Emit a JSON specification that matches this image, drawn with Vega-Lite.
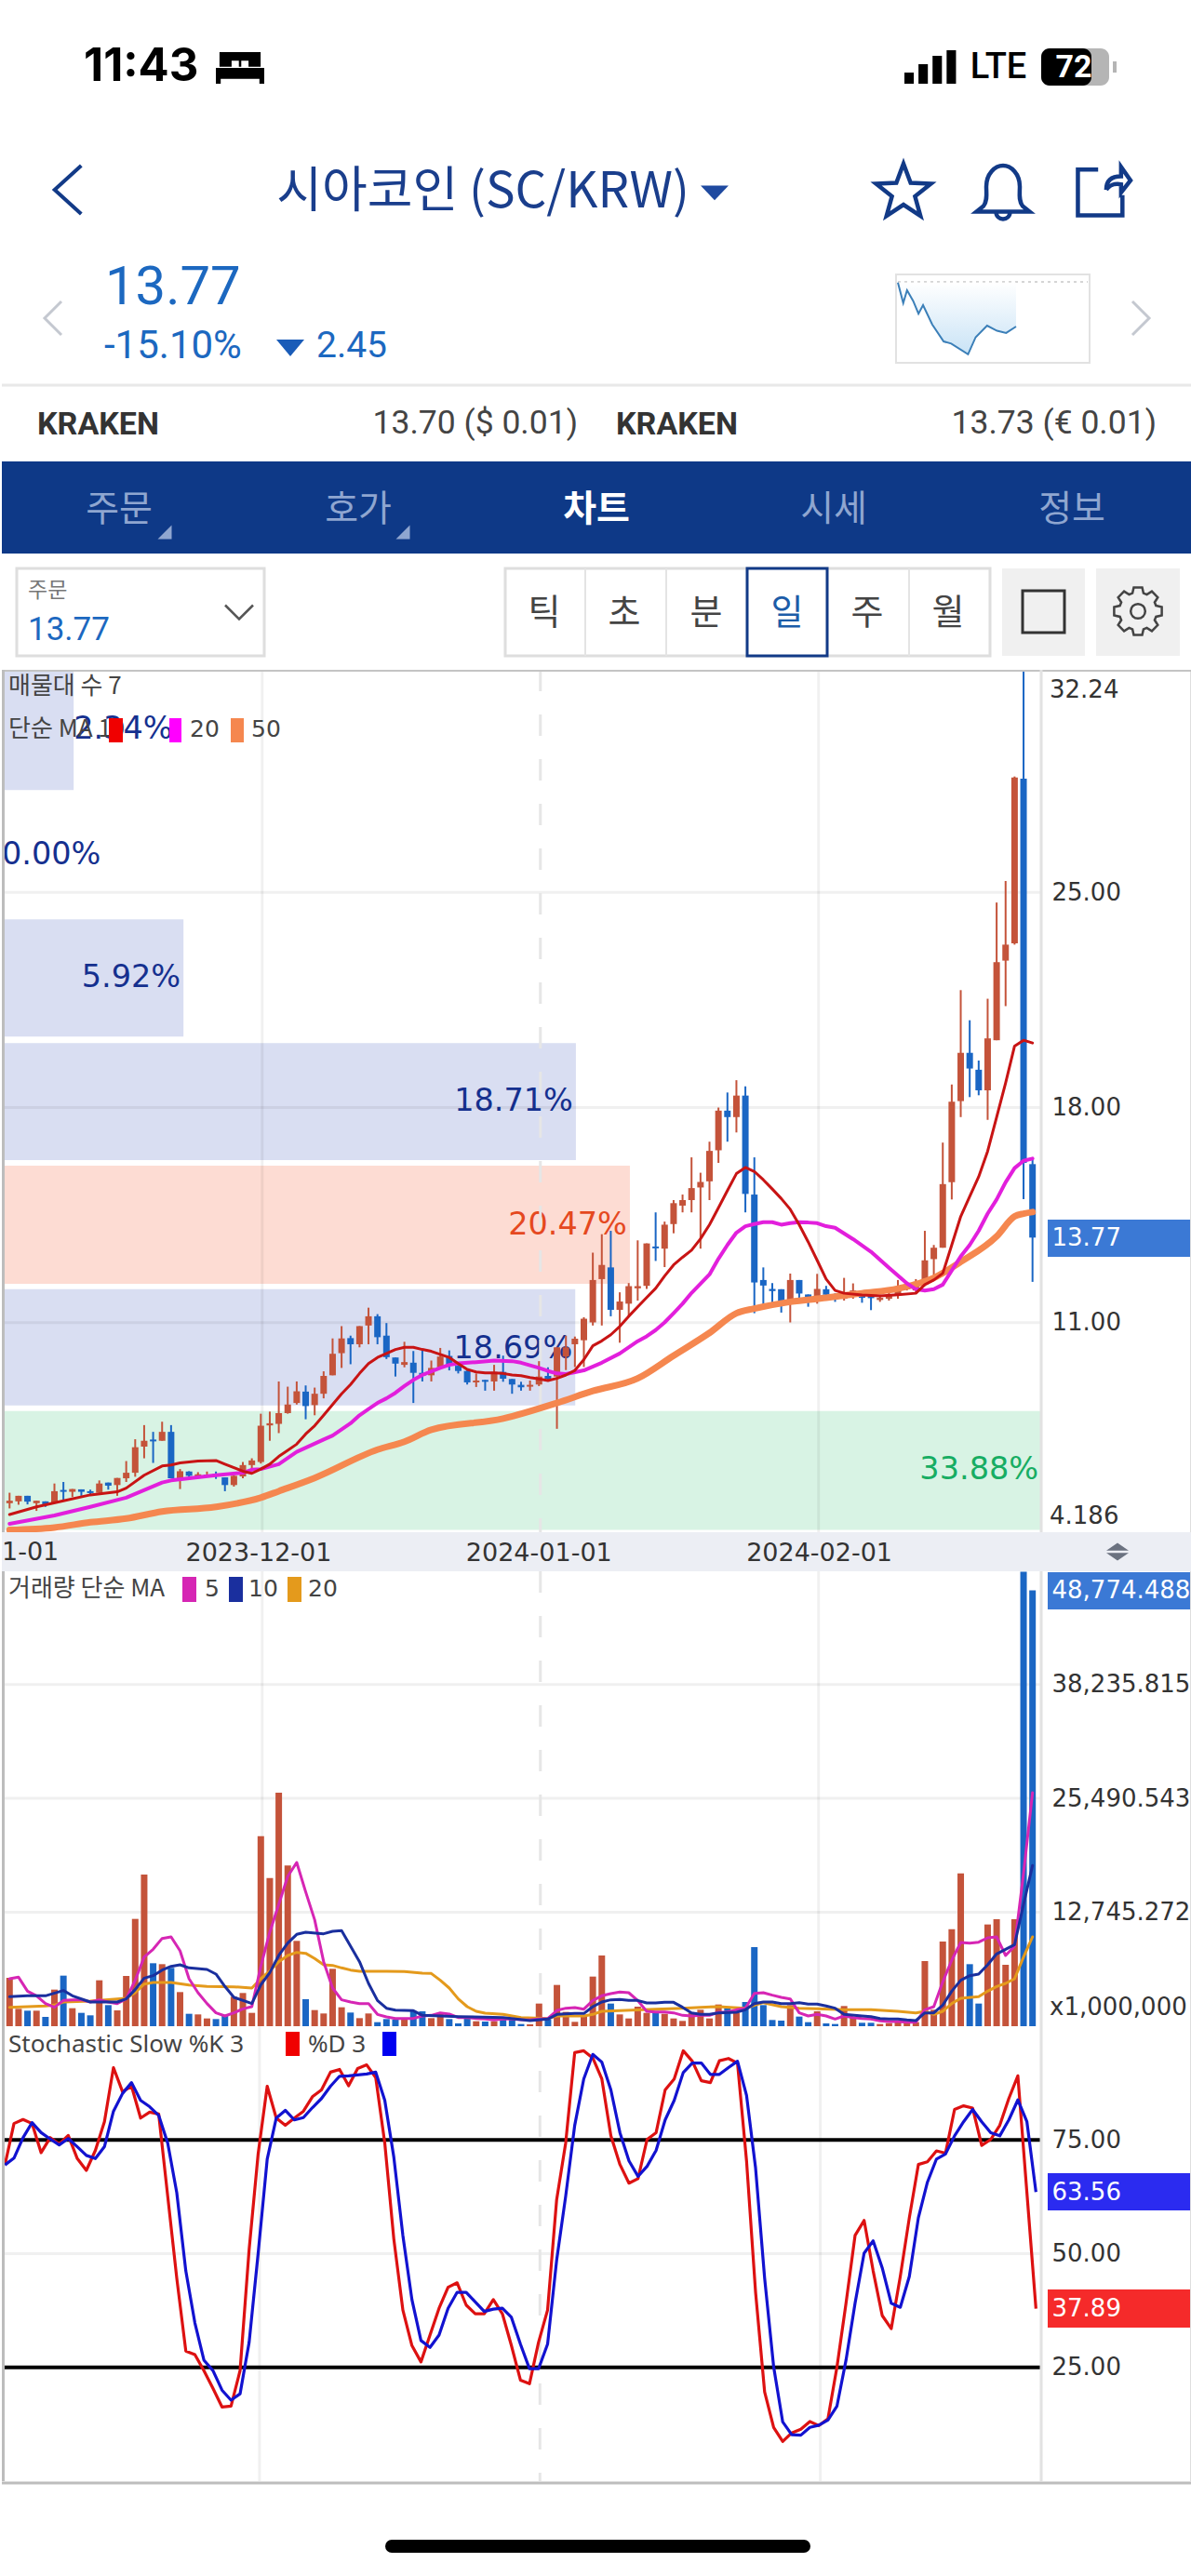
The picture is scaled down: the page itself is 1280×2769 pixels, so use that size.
{
"$schema":"https://vega.github.io/schema/vega-lite/v6.json",
"padding":0,"spacing":0,"bounds":"flush","background":"white",
"config":{"view":{"stroke":null},"axis":{"labelFont":"DejaVu Sans"}},
"datasets":{
"k":[
{"d":"2023-11-03","o":5.13,"h":5.47,"l":4.96,"c":5.21,"v":5413},{"d":"2023-11-04","o":5.19,"h":5.37,"l":5.08,"c":5.37,"v":1943},{"d":"2023-11-05","o":5.37,"h":5.37,"l":5.09,"c":5.18,"v":1735},{"d":"2023-11-06","o":5.13,"h":5.21,"l":4.88,"c":5.21,"v":1735},{"d":"2023-11-07","o":5.19,"h":5.19,"l":5.01,"c":5.09,"v":1041},{"d":"2023-11-08","o":5.13,"h":5.77,"l":5.13,"c":5.52,"v":4095},{"d":"2023-11-09","o":5.56,"h":5.82,"l":5.23,"c":5.50,"v":5656},{"d":"2023-11-10","o":5.50,"h":5.59,"l":5.33,"c":5.59,"v":2013},{"d":"2023-11-11","o":5.58,"h":5.58,"l":5.37,"c":5.50,"v":1492},{"d":"2023-11-12","o":5.52,"h":5.57,"l":5.37,"c":5.46,"v":1215},{"d":"2023-11-13","o":5.47,"h":5.87,"l":5.47,"c":5.77,"v":5136},{"d":"2023-11-14","o":5.80,"h":5.80,"l":5.57,"c":5.70,"v":2360},{"d":"2023-11-15","o":5.72,"h":5.95,"l":5.37,"c":5.95,"v":1770},{"d":"2023-11-16","o":5.94,"h":6.50,"l":5.82,"c":6.12,"v":5621},{"d":"2023-11-17","o":6.12,"h":7.21,"l":5.99,"c":6.95,"v":12006},{"d":"2023-11-18","o":6.97,"h":7.67,"l":6.59,"c":7.16,"v":16968},{"d":"2023-11-19","o":7.20,"h":7.45,"l":6.44,"c":7.14,"v":7044},{"d":"2023-11-20","o":7.16,"h":7.78,"l":7.16,"c":7.45,"v":6940},{"d":"2023-11-21","o":7.45,"h":7.67,"l":5.94,"c":5.94,"v":6524},{"d":"2023-11-22","o":5.94,"h":6.24,"l":5.59,"c":6.17,"v":3817},{"d":"2023-11-23","o":6.16,"h":6.17,"l":5.97,"c":6.02,"v":1388},{"d":"2023-11-24","o":6.00,"h":6.14,"l":5.97,"c":6.07,"v":1319},{"d":"2023-11-25","o":6.00,"h":6.16,"l":5.97,"c":6.06,"v":868},{"d":"2023-11-26","o":6.08,"h":6.16,"l":5.92,"c":6.00,"v":798},{"d":"2023-11-27","o":5.97,"h":5.97,"l":5.52,"c":5.72,"v":1215},{"d":"2023-11-28","o":5.72,"h":6.04,"l":5.67,"c":6.02,"v":3297},{"d":"2023-11-29","o":6.00,"h":6.47,"l":5.94,"c":6.37,"v":3713},{"d":"2023-11-30","o":6.37,"h":6.59,"l":6.22,"c":6.52,"v":1492},
{"d":"2023-12-01","o":6.47,"h":8.04,"l":6.42,"c":7.65,"v":21271},{"d":"2023-12-02","o":7.66,"h":8.11,"l":7.16,"c":7.73,"v":16587},{"d":"2023-12-03","o":7.71,"h":9.09,"l":7.41,"c":8.06,"v":26129},{"d":"2023-12-04","o":8.06,"h":8.92,"l":8.04,"c":8.34,"v":17975},{"d":"2023-12-05","o":8.39,"h":9.09,"l":8.34,"c":8.77,"v":9543},{"d":"2023-12-06","o":8.76,"h":8.96,"l":7.86,"c":8.29,"v":3019},{"d":"2023-12-07","o":8.32,"h":8.89,"l":7.99,"c":8.69,"v":1804},{"d":"2023-12-08","o":8.69,"h":9.42,"l":8.54,"c":9.27,"v":1423},{"d":"2023-12-09","o":9.29,"h":10.49,"l":9.29,"c":9.99,"v":6420},{"d":"2023-12-10","o":10.01,"h":10.89,"l":9.53,"c":10.49,"v":2117},{"d":"2023-12-11","o":10.50,"h":10.58,"l":9.65,"c":10.30,"v":1527},{"d":"2023-12-12","o":10.30,"h":10.89,"l":10.20,"c":10.89,"v":902},{"d":"2023-12-13","o":10.91,"h":11.49,"l":10.30,"c":11.21,"v":1423},{"d":"2023-12-14","o":11.21,"h":11.28,"l":10.30,"c":10.53,"v":451},{"d":"2023-12-15","o":10.58,"h":10.99,"l":9.82,"c":9.88,"v":798},{"d":"2023-12-16","o":9.87,"h":9.87,"l":9.25,"c":9.67,"v":729},{"d":"2023-12-17","o":9.63,"h":10.38,"l":9.55,"c":9.72,"v":798},{"d":"2023-12-18","o":9.70,"h":10.08,"l":8.39,"c":9.37,"v":1666},{"d":"2023-12-19","o":9.37,"h":10.10,"l":9.09,"c":9.27,"v":1666},{"d":"2023-12-20","o":9.29,"h":9.77,"l":9.09,"c":9.53,"v":902},{"d":"2023-12-21","o":9.55,"h":10.18,"l":9.55,"c":9.90,"v":1492},{"d":"2023-12-22","o":9.92,"h":10.10,"l":9.45,"c":9.63,"v":798},{"d":"2023-12-23","o":9.60,"h":9.70,"l":9.35,"c":9.43,"v":312},{"d":"2023-12-24","o":9.43,"h":9.45,"l":8.99,"c":9.06,"v":868},{"d":"2023-12-25","o":9.06,"h":9.35,"l":8.91,"c":9.12,"v":555},{"d":"2023-12-26","o":9.14,"h":9.14,"l":8.79,"c":9.08,"v":520},{"d":"2023-12-27","o":9.09,"h":9.63,"l":8.79,"c":9.40,"v":555},{"d":"2023-12-28","o":9.40,"h":9.93,"l":9.08,"c":9.18,"v":798},{"d":"2023-12-29","o":9.17,"h":9.17,"l":8.69,"c":8.99,"v":729},{"d":"2023-12-30","o":8.98,"h":9.08,"l":8.79,"c":8.90,"v":243},{"d":"2023-12-31","o":8.92,"h":9.12,"l":8.79,"c":8.98,"v":208},
{"d":"2024-01-01","o":8.99,"h":9.75,"l":8.94,"c":9.25,"v":2533},{"d":"2024-01-02","o":9.27,"h":9.55,"l":9.09,"c":9.17,"v":729},{"d":"2024-01-03","o":9.25,"h":10.20,"l":7.55,"c":10.20,"v":4615},{"d":"2024-01-04","o":9.90,"h":10.58,"l":9.46,"c":10.20,"v":1596},{"d":"2024-01-05","o":10.30,"h":10.55,"l":9.56,"c":10.48,"v":486},{"d":"2024-01-06","o":10.43,"h":11.18,"l":9.56,"c":11.13,"v":1076},{"d":"2024-01-07","o":11.01,"h":13.28,"l":10.91,"c":12.39,"v":5552},{"d":"2024-01-08","o":12.42,"h":13.88,"l":10.91,"c":12.88,"v":7912},{"d":"2024-01-09","o":12.80,"h":13.99,"l":11.21,"c":11.42,"v":2533},{"d":"2024-01-10","o":11.42,"h":11.99,"l":10.35,"c":11.69,"v":1319},{"d":"2024-01-11","o":11.62,"h":12.29,"l":11.21,"c":12.19,"v":868},{"d":"2024-01-12","o":12.12,"h":13.68,"l":11.72,"c":12.19,"v":2186},{"d":"2024-01-13","o":12.20,"h":13.58,"l":12.10,"c":13.58,"v":1492},{"d":"2024-01-14","o":13.48,"h":14.59,"l":13.01,"c":13.42,"v":1666},{"d":"2024-01-15","o":13.41,"h":14.29,"l":12.81,"c":14.19,"v":1388},{"d":"2024-01-16","o":14.21,"h":14.99,"l":13.91,"c":14.89,"v":868},{"d":"2024-01-17","o":14.81,"h":15.17,"l":14.59,"c":14.99,"v":590},{"d":"2024-01-18","o":14.99,"h":16.38,"l":14.59,"c":15.38,"v":1492},{"d":"2024-01-19","o":15.40,"h":15.88,"l":13.41,"c":15.58,"v":1839},{"d":"2024-01-20","o":15.60,"h":16.89,"l":14.99,"c":16.59,"v":868},{"d":"2024-01-21","o":16.61,"h":18.00,"l":16.20,"c":17.90,"v":2429},{"d":"2024-01-22","o":17.90,"h":18.49,"l":16.89,"c":17.69,"v":2013},{"d":"2024-01-23","o":17.69,"h":18.89,"l":17.19,"c":18.39,"v":1492},{"d":"2024-01-24","o":18.39,"h":18.69,"l":14.59,"c":15.19,"v":2707},{"d":"2024-01-25","o":15.17,"h":16.38,"l":11.31,"c":12.31,"v":8849},{"d":"2024-01-26","o":12.39,"h":12.80,"l":11.52,"c":12.21,"v":2360},{"d":"2024-01-27","o":12.10,"h":12.29,"l":11.62,"c":12.03,"v":694},{"d":"2024-01-28","o":12.09,"h":12.09,"l":11.33,"c":11.67,"v":625},{"d":"2024-01-29","o":11.67,"h":12.60,"l":11.01,"c":12.39,"v":2360},{"d":"2024-01-30","o":12.39,"h":12.39,"l":11.81,"c":11.95,"v":1076},{"d":"2024-01-31","o":11.92,"h":11.92,"l":11.52,"c":11.79,"v":451},
{"d":"2024-02-01","o":11.77,"h":12.59,"l":11.62,"c":12.10,"v":1666},{"d":"2024-02-02","o":12.09,"h":12.20,"l":11.78,"c":11.91,"v":312},{"d":"2024-02-03","o":11.91,"h":11.96,"l":11.68,"c":11.76,"v":243},{"d":"2024-02-04","o":11.78,"h":12.46,"l":11.72,"c":11.96,"v":2256},{"d":"2024-02-05","o":11.87,"h":12.28,"l":11.78,"c":12.05,"v":972},{"d":"2024-02-06","o":11.96,"h":11.96,"l":11.65,"c":11.81,"v":382},{"d":"2024-02-07","o":11.87,"h":11.96,"l":11.41,"c":11.80,"v":382},{"d":"2024-02-08","o":11.74,"h":11.91,"l":11.68,"c":11.81,"v":243},{"d":"2024-02-09","o":11.78,"h":12.00,"l":11.72,"c":11.87,"v":347},{"d":"2024-02-10","o":11.91,"h":12.39,"l":11.78,"c":12.15,"v":555},{"d":"2024-02-11","o":12.09,"h":12.28,"l":12.05,"c":12.24,"v":451},{"d":"2024-02-12","o":12.05,"h":12.42,"l":11.96,"c":12.33,"v":451},{"d":"2024-02-13","o":12.24,"h":13.99,"l":12.20,"c":13.03,"v":7287},{"d":"2024-02-14","o":13.07,"h":13.53,"l":12.55,"c":13.44,"v":1839},{"d":"2024-02-15","o":13.44,"h":16.86,"l":13.44,"c":15.51,"v":9473},{"d":"2024-02-16","o":15.57,"h":18.75,"l":15.01,"c":18.19,"v":10861},{"d":"2024-02-17","o":18.21,"h":21.82,"l":17.69,"c":19.78,"v":17107},{"d":"2024-02-18","o":19.78,"h":20.84,"l":18.34,"c":19.27,"v":6940},{"d":"2024-02-19","o":19.23,"h":19.53,"l":18.40,"c":18.56,"v":2533},{"d":"2024-02-20","o":18.56,"h":21.54,"l":17.60,"c":20.25,"v":11382},{"d":"2024-02-21","o":20.19,"h":24.67,"l":20.19,"c":22.73,"v":11972},{"d":"2024-02-22","o":22.78,"h":25.37,"l":21.30,"c":23.30,"v":6871},{"d":"2024-02-23","o":23.34,"h":28.77,"l":23.30,"c":28.74,"v":11972},{"d":"2024-02-24","o":28.70,"h":32.24,"l":15.02,"c":16.20,"v":50836},{"d":"2024-02-25","o":16.16,"h":16.34,"l":12.33,"c":13.77,"v":48774.488}
],
"ma10":[{"d":"2023-11-03","v":4.76},{"d":"2023-11-06","v":5.01},{"d":"2023-11-09","v":5.21},{"d":"2023-11-12","v":5.40},{"d":"2023-11-15","v":5.50},{"d":"2023-11-16","v":5.62},{"d":"2023-11-18","v":6.04},{"d":"2023-11-20","v":6.34},{"d":"2023-11-21","v":6.37},{"d":"2023-11-22","v":6.44},{"d":"2023-11-24","v":6.50},{"d":"2023-11-26","v":6.52},{"d":"2023-11-27","v":6.40},{"d":"2023-11-29","v":6.17},{"d":"2023-11-30","v":6.10},{"d":"2023-12-01","v":6.24},{"d":"2023-12-02","v":6.40},{"d":"2023-12-03","v":6.65},{"d":"2023-12-04","v":6.85},{"d":"2023-12-05","v":7.05},{"d":"2023-12-06","v":7.38},{"d":"2023-12-07","v":7.65},{"d":"2023-12-08","v":7.99},{"d":"2023-12-09","v":8.34},{"d":"2023-12-10","v":8.69},{"d":"2023-12-11","v":8.99},{"d":"2023-12-12","v":9.35},{"d":"2023-12-13","v":9.67},{"d":"2023-12-14","v":9.87},{"d":"2023-12-15","v":10.0},{"d":"2023-12-16","v":10.13},{"d":"2023-12-17","v":10.20},{"d":"2023-12-18","v":10.20},{"d":"2023-12-19","v":10.13},{"d":"2023-12-20","v":10.07},{"d":"2023-12-21","v":9.97},{"d":"2023-12-22","v":9.87},{"d":"2023-12-23","v":9.67},{"d":"2023-12-24","v":9.48},{"d":"2023-12-25","v":9.40},{"d":"2023-12-26","v":9.37},{"d":"2023-12-27","v":9.37},{"d":"2023-12-28","v":9.35},{"d":"2023-12-29","v":9.30},{"d":"2023-12-30","v":9.28},{"d":"2023-12-31","v":9.22},{"d":"2024-01-01","v":9.17},{"d":"2024-01-02","v":9.12},{"d":"2024-01-03","v":9.19},{"d":"2024-01-04","v":9.30},{"d":"2024-01-05","v":9.45},{"d":"2024-01-06","v":9.80},{"d":"2024-01-07","v":10.25},{"d":"2024-01-08","v":10.41},{"d":"2024-01-09","v":10.61},{"d":"2024-01-10","v":10.88},{"d":"2024-01-11","v":11.21},{"d":"2024-01-12","v":11.52},{"d":"2024-01-13","v":11.82},{"d":"2024-01-14","v":12.12},{"d":"2024-01-15","v":12.52},{"d":"2024-01-16","v":12.88},{"d":"2024-01-17","v":13.13},{"d":"2024-01-18","v":13.36},{"d":"2024-01-19","v":13.73},{"d":"2024-01-20","v":14.19},{"d":"2024-01-21","v":14.74},{"d":"2024-01-22","v":15.30},{"d":"2024-01-23","v":15.85},{"d":"2024-01-24","v":16.05},{"d":"2024-01-25","v":15.92},{"d":"2024-01-26","v":15.65},{"d":"2024-01-27","v":15.35},{"d":"2024-01-28","v":15.04},{"d":"2024-01-29","v":14.69},{"d":"2024-01-30","v":14.19},{"d":"2024-01-31","v":13.63},{"d":"2024-02-01","v":13.03},{"d":"2024-02-02","v":12.42},{"d":"2024-02-03","v":12.05},{"d":"2024-02-04","v":11.96},{"d":"2024-02-06","v":11.90},{"d":"2024-02-08","v":11.87},{"d":"2024-02-10","v":11.91},{"d":"2024-02-12","v":11.96},{"d":"2024-02-13","v":12.24},{"d":"2024-02-14","v":12.39},{"d":"2024-02-15","v":12.61},{"d":"2024-02-16","v":13.53},{"d":"2024-02-17","v":14.46},{"d":"2024-02-18","v":15.11},{"d":"2024-02-19","v":15.75},{"d":"2024-02-20","v":16.58},{"d":"2024-02-21","v":17.69},{"d":"2024-02-22","v":18.80},{"d":"2024-02-23","v":20.0},{"d":"2024-02-24","v":20.19},{"d":"2024-02-25","v":20.10}],
"ma20":[{"d":"2023-11-03","v":4.46},{"d":"2023-11-08","v":4.73},{"d":"2023-11-12","v":5.01},{"d":"2023-11-16","v":5.31},{"d":"2023-11-20","v":5.80},{"d":"2023-11-21","v":5.87},{"d":"2023-11-26","v":6.04},{"d":"2023-11-29","v":6.12},{"d":"2023-11-30","v":6.22},{"d":"2023-12-01","v":6.24},{"d":"2023-12-03","v":6.40},{"d":"2023-12-05","v":6.80},{"d":"2023-12-08","v":7.20},{"d":"2023-12-09","v":7.33},{"d":"2023-12-11","v":7.73},{"d":"2023-12-12","v":7.99},{"d":"2023-12-13","v":8.19},{"d":"2023-12-14","v":8.39},{"d":"2023-12-15","v":8.54},{"d":"2023-12-16","v":8.72},{"d":"2023-12-17","v":8.94},{"d":"2023-12-18","v":9.14},{"d":"2023-12-19","v":9.30},{"d":"2023-12-20","v":9.42},{"d":"2023-12-21","v":9.53},{"d":"2023-12-22","v":9.63},{"d":"2023-12-23","v":9.68},{"d":"2023-12-25","v":9.72},{"d":"2023-12-27","v":9.77},{"d":"2023-12-29","v":9.75},{"d":"2023-12-30","v":9.70},{"d":"2024-01-01","v":9.53},{"d":"2024-01-02","v":9.43},{"d":"2024-01-03","v":9.35},{"d":"2024-01-04","v":9.33},{"d":"2024-01-06","v":9.45},{"d":"2024-01-08","v":9.70},{"d":"2024-01-10","v":10.0},{"d":"2024-01-12","v":10.40},{"d":"2024-01-13","v":10.56},{"d":"2024-01-14","v":10.76},{"d":"2024-01-15","v":11.01},{"d":"2024-01-16","v":11.31},{"d":"2024-01-17","v":11.62},{"d":"2024-01-18","v":11.97},{"d":"2024-01-19","v":12.27},{"d":"2024-01-20","v":12.57},{"d":"2024-01-21","v":13.08},{"d":"2024-01-22","v":13.53},{"d":"2024-01-23","v":13.93},{"d":"2024-01-24","v":14.14},{"d":"2024-01-25","v":14.21},{"d":"2024-01-26","v":14.27},{"d":"2024-01-27","v":14.27},{"d":"2024-01-28","v":14.19},{"d":"2024-01-29","v":14.24},{"d":"2024-01-30","v":14.27},{"d":"2024-01-31","v":14.26},{"d":"2024-02-01","v":14.24},{"d":"2024-02-02","v":14.14},{"d":"2024-02-03","v":14.09},{"d":"2024-02-05","v":13.72},{"d":"2024-02-07","v":13.31},{"d":"2024-02-09","v":12.79},{"d":"2024-02-11","v":12.28},{"d":"2024-02-12","v":12.09},{"d":"2024-02-13","v":12.05},{"d":"2024-02-14","v":12.09},{"d":"2024-02-15","v":12.24},{"d":"2024-02-16","v":12.70},{"d":"2024-02-17","v":13.16},{"d":"2024-02-18","v":13.53},{"d":"2024-02-19","v":13.99},{"d":"2024-02-20","v":14.55},{"d":"2024-02-21","v":15.01},{"d":"2024-02-22","v":15.57},{"d":"2024-02-23","v":16.03},{"d":"2024-02-24","v":16.27},{"d":"2024-02-25","v":16.34}],
"ma50":[{"d":"2023-11-03","v":4.26},{"d":"2023-11-08","v":4.34},{"d":"2023-11-12","v":4.51},{"d":"2023-11-16","v":4.63},{"d":"2023-11-20","v":4.86},{"d":"2023-11-26","v":5.01},{"d":"2023-12-01","v":5.31},{"d":"2023-12-03","v":5.52},{"d":"2023-12-07","v":5.95},{"d":"2023-12-14","v":6.87},{"d":"2023-12-17","v":7.13},{"d":"2023-12-20","v":7.52},{"d":"2023-12-28","v":7.88},{"d":"2024-01-03","v":8.39},{"d":"2024-01-07","v":8.78},{"d":"2024-01-12","v":9.19},{"d":"2024-01-16","v":9.93},{"d":"2024-01-20","v":10.67},{"d":"2024-01-23","v":11.31},{"d":"2024-01-25","v":11.46},{"d":"2024-01-29","v":11.68},{"d":"2024-02-02","v":11.81},{"d":"2024-02-06","v":11.96},{"d":"2024-02-10","v":12.11},{"d":"2024-02-14","v":12.46},{"d":"2024-02-17","v":12.98},{"d":"2024-02-21","v":13.81},{"d":"2024-02-23","v":14.46},{"d":"2024-02-24","v":14.55},{"d":"2024-02-25","v":14.60}],
"vm5":[{"d":"2023-11-03","v":5309},{"d":"2023-11-04","v":5483},{"d":"2023-11-05","v":3921},{"d":"2023-11-06","v":3401},{"d":"2023-11-07","v":2533},{"d":"2023-11-08","v":2117},{"d":"2023-11-09","v":2880},{"d":"2023-11-10","v":2950},{"d":"2023-11-11","v":2950},{"d":"2023-11-12","v":2707},{"d":"2023-11-13","v":2950},{"d":"2023-11-14","v":2707},{"d":"2023-11-15","v":2533},{"d":"2023-11-16","v":3054},{"d":"2023-11-17","v":5136},{"d":"2023-11-18","v":7738},{"d":"2023-11-19","v":8606},{"d":"2023-11-20","v":9820},{"d":"2023-11-21","v":9994},{"d":"2023-11-22","v":8432},{"d":"2023-11-23","v":5309},{"d":"2023-11-24","v":3748},{"d":"2023-11-25","v":2533},{"d":"2023-11-26","v":1492},{"d":"2023-11-27","v":1145},{"d":"2023-11-28","v":1492},{"d":"2023-11-29","v":1943},{"d":"2023-11-30","v":2186},{"d":"2023-12-01","v":6697},{"d":"2023-12-02","v":10514},{"d":"2023-12-03","v":13637},{"d":"2023-12-04","v":16760},{"d":"2023-12-05","v":18322},{"d":"2023-12-06","v":15025},{"d":"2023-12-07","v":11902},{"d":"2023-12-08","v":7218},{"d":"2023-12-09","v":4268},{"d":"2023-12-10","v":2950},{"d":"2023-12-11","v":2707},{"d":"2023-12-12","v":2533},{"d":"2023-12-13","v":2533},{"d":"2023-12-14","v":1319},{"d":"2023-12-15","v":1041},{"d":"2023-12-16","v":868},{"d":"2023-12-17","v":868},{"d":"2023-12-18","v":868},{"d":"2023-12-19","v":1145},{"d":"2023-12-20","v":1215},{"d":"2023-12-21","v":1492},{"d":"2023-12-22","v":1353},{"d":"2023-12-23","v":972},{"d":"2023-12-24","v":972},{"d":"2023-12-25","v":868},{"d":"2023-12-26","v":798},{"d":"2023-12-27","v":694},{"d":"2023-12-28","v":798},{"d":"2023-12-29","v":798},{"d":"2023-12-30","v":729},{"d":"2023-12-31","v":694},{"d":"2024-01-01","v":798},{"d":"2024-01-02","v":868},{"d":"2024-01-03","v":1770},{"d":"2024-01-04","v":2013},{"d":"2024-01-05","v":2082},{"d":"2024-01-06","v":1909},{"d":"2024-01-07","v":2880},{"d":"2024-01-08","v":3401},{"d":"2024-01-09","v":3644},{"d":"2024-01-10","v":3817},{"d":"2024-01-11","v":3748},{"d":"2024-01-12","v":2880},{"d":"2024-01-13","v":1666},{"d":"2024-01-14","v":1596},{"d":"2024-01-15","v":1596},{"d":"2024-01-16","v":1492},{"d":"2024-01-17","v":1215},{"d":"2024-01-18","v":1145},{"d":"2024-01-19","v":1215},{"d":"2024-01-20","v":1215},{"d":"2024-01-21","v":1562},{"d":"2024-01-22","v":1596},{"d":"2024-01-23","v":1839},{"d":"2024-01-24","v":2013},{"d":"2024-01-25","v":3678},{"d":"2024-01-26","v":3748},{"d":"2024-01-27","v":3470},{"d":"2024-01-28","v":3227},{"d":"2024-01-29","v":3054},{"d":"2024-01-30","v":1492},{"d":"2024-01-31","v":1145},{"d":"2024-02-01","v":1319},{"d":"2024-02-02","v":1145},{"d":"2024-02-03","v":798},{"d":"2024-02-04","v":1145},{"d":"2024-02-05","v":972},{"d":"2024-02-06","v":868},{"d":"2024-02-07","v":798},{"d":"2024-02-08","v":590},{"d":"2024-02-09","v":521},{"d":"2024-02-10","v":521},{"d":"2024-02-11","v":451},{"d":"2024-02-12","v":451},{"d":"2024-02-13","v":1839},{"d":"2024-02-14","v":2186},{"d":"2024-02-15","v":4962},{"d":"2024-02-16","v":7391},{"d":"2024-02-17","v":9369},{"d":"2024-02-18","v":9300},{"d":"2024-02-19","v":9404},{"d":"2024-02-20","v":9890},{"d":"2024-02-21","v":9994},{"d":"2024-02-22","v":7912},{"d":"2024-02-23","v":8953},{"d":"2024-02-24","v":17107},{"d":"2024-02-25","v":26129}],
"vm10":[{"d":"2023-11-03","v":3297},{"d":"2023-11-05","v":3401},{"d":"2023-11-07","v":3401},{"d":"2023-11-09","v":3991},{"d":"2023-11-10","v":3401},{"d":"2023-11-12","v":2707},{"d":"2023-11-14","v":2707},{"d":"2023-11-15","v":2707},{"d":"2023-11-16","v":3054},{"d":"2023-11-17","v":4095},{"d":"2023-11-18","v":5379},{"d":"2023-11-19","v":5656},{"d":"2023-11-20","v":6281},{"d":"2023-11-21","v":6697},{"d":"2023-11-22","v":6871},{"d":"2023-11-23","v":6524},{"d":"2023-11-25","v":6350},{"d":"2023-11-26","v":5830},{"d":"2023-11-27","v":4442},{"d":"2023-11-28","v":3227},{"d":"2023-11-30","v":2533},{"d":"2023-12-01","v":4615},{"d":"2023-12-02","v":6003},{"d":"2023-12-03","v":7912},{"d":"2023-12-04","v":9300},{"d":"2023-12-05","v":10271},{"d":"2023-12-06","v":10514},{"d":"2023-12-08","v":10341},{"d":"2023-12-09","v":10618},{"d":"2023-12-10","v":10688},{"d":"2023-12-11","v":8953},{"d":"2023-12-12","v":7218},{"d":"2023-12-13","v":4789},{"d":"2023-12-14","v":2880},{"d":"2023-12-15","v":2013},{"d":"2023-12-16","v":1804},{"d":"2023-12-18","v":1735},{"d":"2023-12-19","v":1215},{"d":"2023-12-23","v":1076},{"d":"2023-12-28","v":972},{"d":"2023-12-31","v":625},{"d":"2024-01-02","v":798},{"d":"2024-01-03","v":1319},{"d":"2024-01-05","v":1423},{"d":"2024-01-06","v":1423},{"d":"2024-01-07","v":2186},{"d":"2024-01-08","v":2707},{"d":"2024-01-09","v":2950},{"d":"2024-01-10","v":2984},{"d":"2024-01-11","v":2880},{"d":"2024-01-12","v":2880},{"d":"2024-01-13","v":2603},{"d":"2024-01-14","v":2603},{"d":"2024-01-15","v":2672},{"d":"2024-01-16","v":2672},{"d":"2024-01-17","v":2117},{"d":"2024-01-18","v":1492},{"d":"2024-01-19","v":1319},{"d":"2024-01-20","v":1319},{"d":"2024-01-21","v":1492},{"d":"2024-01-23","v":1562},{"d":"2024-01-24","v":1839},{"d":"2024-01-25","v":2533},{"d":"2024-01-26","v":2707},{"d":"2024-01-27","v":2707},{"d":"2024-01-28","v":2533},{"d":"2024-01-29","v":2533},{"d":"2024-01-30","v":2637},{"d":"2024-01-31","v":2464},{"d":"2024-02-01","v":2464},{"d":"2024-02-02","v":2256},{"d":"2024-02-03","v":2013},{"d":"2024-02-04","v":1319},{"d":"2024-02-06","v":1145},{"d":"2024-02-07","v":1076},{"d":"2024-02-08","v":868},{"d":"2024-02-09","v":798},{"d":"2024-02-10","v":798},{"d":"2024-02-11","v":694},{"d":"2024-02-12","v":625},{"d":"2024-02-13","v":1492},{"d":"2024-02-14","v":1492},{"d":"2024-02-15","v":2360},{"d":"2024-02-16","v":3921},{"d":"2024-02-17","v":5136},{"d":"2024-02-18","v":5656},{"d":"2024-02-19","v":5830},{"d":"2024-02-20","v":6871},{"d":"2024-02-21","v":8085},{"d":"2024-02-22","v":8606},{"d":"2024-02-23","v":9126},{"d":"2024-02-24","v":13637},{"d":"2024-02-25","v":17975}],
"vm20":[{"d":"2023-11-03","v":2117},{"d":"2023-11-07","v":2256},{"d":"2023-11-08","v":2360},{"d":"2023-11-09","v":2707},{"d":"2023-11-12","v":2811},{"d":"2023-11-15","v":3054},{"d":"2023-11-16","v":3123},{"d":"2023-11-17","v":3748},{"d":"2023-11-18","v":4719},{"d":"2023-11-19","v":4893},{"d":"2023-11-21","v":4893},{"d":"2023-11-23","v":4615},{"d":"2023-11-25","v":4442},{"d":"2023-11-28","v":4407},{"d":"2023-11-30","v":4268},{"d":"2023-12-01","v":5309},{"d":"2023-12-02","v":6177},{"d":"2023-12-03","v":7218},{"d":"2023-12-04","v":7912},{"d":"2023-12-05","v":8259},{"d":"2023-12-06","v":8155},{"d":"2023-12-07","v":7565},{"d":"2023-12-08","v":6871},{"d":"2023-12-09","v":6801},{"d":"2023-12-10","v":6524},{"d":"2023-12-11","v":6281},{"d":"2023-12-12","v":6142},{"d":"2023-12-15","v":6142},{"d":"2023-12-17","v":6107},{"d":"2023-12-19","v":5934},{"d":"2023-12-20","v":5899},{"d":"2023-12-21","v":5136},{"d":"2023-12-22","v":4268},{"d":"2023-12-23","v":3054},{"d":"2023-12-24","v":2186},{"d":"2023-12-25","v":1666},{"d":"2023-12-26","v":1457},{"d":"2023-12-28","v":1319},{"d":"2023-12-30","v":972},{"d":"2024-01-02","v":868},{"d":"2024-01-03","v":1145},{"d":"2024-01-06","v":1145},{"d":"2024-01-07","v":1319},{"d":"2024-01-08","v":1666},{"d":"2024-01-10","v":1735},{"d":"2024-01-14","v":1909},{"d":"2024-01-17","v":2013},{"d":"2024-01-19","v":2117},{"d":"2024-01-21","v":2186},{"d":"2024-01-24","v":2013},{"d":"2024-01-26","v":2637},{"d":"2024-01-28","v":2186},{"d":"2024-01-30","v":2013},{"d":"2024-02-01","v":1943},{"d":"2024-02-04","v":1839},{"d":"2024-02-07","v":1839},{"d":"2024-02-10","v":1666},{"d":"2024-02-12","v":1492},{"d":"2024-02-13","v":1666},{"d":"2024-02-14","v":1319},{"d":"2024-02-15","v":1666},{"d":"2024-02-16","v":2533},{"d":"2024-02-17","v":3123},{"d":"2024-02-19","v":3297},{"d":"2024-02-20","v":3921},{"d":"2024-02-21","v":4442},{"d":"2024-02-22","v":4789},{"d":"2024-02-23","v":5309},{"d":"2024-02-24","v":7738},{"d":"2024-02-25","v":9994}],
"st":[
{"d":"2023-11-03","pk":69.5,"pd":69.5},{"d":"2023-11-04","pk":78.6,"pd":71.0},{"d":"2023-11-05","pk":79.5,"pd":75.5},{"d":"2023-11-06","pk":78.6,"pd":78.8},{"d":"2023-11-07","pk":72.2,"pd":76.6},{"d":"2023-11-08","pk":75.5,"pd":75.2},{"d":"2023-11-09","pk":74.1,"pd":73.9},{"d":"2023-11-10","pk":76.0,"pd":75.3},{"d":"2023-11-11","pk":70.9,"pd":73.5},{"d":"2023-11-12","pk":68.3,"pd":71.6},{"d":"2023-11-13","pk":72.7,"pd":70.9},{"d":"2023-11-14","pk":79.0,"pd":73.5},{"d":"2023-11-15","pk":90.9,"pd":81.3},{"d":"2023-11-16","pk":85.6,"pd":85.2},{"d":"2023-11-17","pk":86.8,"pd":87.6},{"d":"2023-11-18","pk":79.8,"pd":83.7},{"d":"2023-11-19","pk":81.1,"pd":82.3},{"d":"2023-11-20","pk":80.7,"pd":80.4},{"d":"2023-11-21","pk":62.6,"pd":74.3},{"d":"2023-11-22","pk":44.6,"pd":63.4},{"d":"2023-11-23","pk":28.6,"pd":46.2},{"d":"2023-11-24","pk":27.8,"pd":34.8},{"d":"2023-11-25","pk":24.3,"pd":26.6},{"d":"2023-11-26","pk":20.4,"pd":24.3},{"d":"2023-11-27","pk":16.3,"pd":20.0},{"d":"2023-11-28","pk":16.5,"pd":17.8},{"d":"2023-11-29","pk":24.3,"pd":19.2},{"d":"2023-11-30","pk":50.9,"pd":30.5},
{"d":"2023-12-01","pk":72.0,"pd":50.1},{"d":"2023-12-02","pk":86.8,"pd":70.8},{"d":"2023-12-03","pk":79.8,"pd":79.8},{"d":"2023-12-04","pk":78.2,"pd":81.5},{"d":"2023-12-05","pk":79.8,"pd":79.4},{"d":"2023-12-06","pk":81.3,"pd":79.9},{"d":"2023-12-07","pk":84.5,"pd":82.1},{"d":"2023-12-08","pk":86.0,"pd":84.1},{"d":"2023-12-09","pk":89.9,"pd":86.8},{"d":"2023-12-10","pk":90.5,"pd":89.0},{"d":"2023-12-11","pk":86.9,"pd":89.1},{"d":"2023-12-12","pk":90.7,"pd":89.3},{"d":"2023-12-13","pk":91.5,"pd":89.5},{"d":"2023-12-14","pk":88.7,"pd":89.9},{"d":"2023-12-15","pk":74.3,"pd":83.7},{"d":"2023-12-16","pk":53.2,"pd":71.2},{"d":"2023-12-17","pk":37.6,"pd":54.0},{"d":"2023-12-18","pk":29.8,"pd":39.9},{"d":"2023-12-19","pk":26.2,"pd":30.9},{"d":"2023-12-20","pk":32.1,"pd":29.4},{"d":"2023-12-21","pk":38.0,"pd":32.1},{"d":"2023-12-22","pk":42.6,"pd":38.0},{"d":"2023-12-23","pk":43.6,"pd":41.5},{"d":"2023-12-24","pk":38.7,"pd":41.5},{"d":"2023-12-25","pk":36.8,"pd":39.4},{"d":"2023-12-26","pk":36.8,"pd":37.3},{"d":"2023-12-27","pk":39.9,"pd":37.8},{"d":"2023-12-28","pk":36.8,"pd":38.0},{"d":"2023-12-29","pk":29.8,"pd":36.0},{"d":"2023-12-30","pk":22.2,"pd":30.1},{"d":"2023-12-31","pk":21.4,"pd":24.7},
{"d":"2024-01-01","pk":30.5,"pd":24.7},{"d":"2024-01-02","pk":37.6,"pd":30.1},{"d":"2024-01-03","pk":61.8,"pd":48.5},{"d":"2024-01-04","pk":74.3,"pd":62.6},{"d":"2024-01-05","pk":94.2,"pd":78.2},{"d":"2024-01-06","pk":94.6,"pd":88.4},{"d":"2024-01-07","pk":93.0,"pd":93.8},{"d":"2024-01-08","pk":88.4,"pd":92.1},{"d":"2024-01-09","pk":75.9,"pd":86.0},{"d":"2024-01-10","pk":69.6,"pd":76.6},{"d":"2024-01-11","pk":65.5,"pd":70.4},{"d":"2024-01-12","pk":66.5,"pd":67.0},{"d":"2024-01-13","pk":75.1,"pd":69.2},{"d":"2024-01-14","pk":76.6,"pd":72.7},{"d":"2024-01-15","pk":86.0,"pd":79.4},{"d":"2024-01-16","pk":88.4,"pd":83.7},{"d":"2024-01-17","pk":94.6,"pd":89.8},{"d":"2024-01-18","pk":92.3,"pd":91.9},{"d":"2024-01-19","pk":88.0,"pd":91.9},{"d":"2024-01-20","pk":87.6,"pd":89.4},{"d":"2024-01-21","pk":92.4,"pd":89.4},{"d":"2024-01-22","pk":92.9,"pd":90.9},{"d":"2024-01-23","pk":91.9,"pd":92.3},{"d":"2024-01-24","pk":70.4,"pd":84.8},{"d":"2024-01-25","pk":41.5,"pd":68.8},{"d":"2024-01-26","pk":19.6,"pd":44.6},{"d":"2024-01-27","pk":11.8,"pd":25.1},{"d":"2024-01-28","pk":8.7,"pd":13.0},{"d":"2024-01-29","pk":10.6,"pd":10.2},{"d":"2024-01-30","pk":11.4,"pd":10.1},{"d":"2024-01-31","pk":13.1,"pd":11.8},
{"d":"2024-02-01","pk":12.2,"pd":12.3},{"d":"2024-02-02","pk":13.7,"pd":13.4},{"d":"2024-02-03","pk":25.1,"pd":16.5},{"d":"2024-02-04","pk":39.1,"pd":26.6},{"d":"2024-02-05","pk":54.0,"pd":39.1},{"d":"2024-02-06","pk":57.3,"pd":50.1},{"d":"2024-02-07","pk":46.2,"pd":52.8},{"d":"2024-02-08","pk":36.4,"pd":46.9},{"d":"2024-02-09","pk":33.5,"pd":39.1},{"d":"2024-02-10","pk":45.0,"pd":38.2},{"d":"2024-02-11","pk":57.9,"pd":45.0},{"d":"2024-02-12","pk":69.6,"pd":57.9},{"d":"2024-02-13","pk":70.2,"pd":65.7},{"d":"2024-02-14","pk":72.6,"pd":70.8},{"d":"2024-02-15","pk":72.1,"pd":71.9},{"d":"2024-02-16","pk":81.7,"pd":75.9},{"d":"2024-02-17","pk":82.5,"pd":79.0},{"d":"2024-02-18","pk":82.0,"pd":81.7},{"d":"2024-02-19","pk":73.8,"pd":79.0},{"d":"2024-02-20","pk":75.1,"pd":76.6},{"d":"2024-02-21","pk":78.2,"pd":75.9},{"d":"2024-02-22","pk":84.1,"pd":79.4},{"d":"2024-02-23","pk":89.1,"pd":83.8},{"d":"2024-02-24","pk":63.4,"pd":79.0},{"d":"2024-02-25","pk":37.89,"pd":63.56}
]
},
"vconcat":[
{"width":1280,"height":720,"resolve":{"scale":{"x":"independent","y":"independent"}},"layer":[
 {"data":{"values":[{"a":1}]},"layer":[
  {"mark":{"type":"text","text":"11:43","font":"Inter","fontSize":49,"fontWeight":700,"align":"left","color":"#000"},"encoding":{"x":{"datum":88,"axis":null,"scale":{"domain":[0,1280],"nice":false,"zero":false}},"y":{"datum":72,"axis":null,"scale":{"domain":[720,0],"nice":false,"zero":false}}}},
  {"mark":{"type":"point","shape":"M-.85,-.65H.85V-.05H.35V-.3H.05V-.05H-.05V-.3H-.35V-.05H-.85Z M-1,0H1V.65H.8V.45H-.8V.65H-1Z","size":2704,"filled":true,"color":"#000","opacity":1},"encoding":{"x":{"datum":256,"axis":null},"y":{"datum":73,"axis":null}}},
  {"mark":{"type":"point","shape":"M-1,.21H-.64V.64H-1Z M-.46,-.11H-.1V.64H-.46Z M.08,-.43H.44V.64H.08Z M.62,-.64H.98V.64H.62Z","size":3136,"filled":true,"color":"#000","opacity":1},"encoding":{"x":{"datum":998,"axis":null},"y":{"datum":72,"axis":null}}},
  {"mark":{"type":"text","text":"LTE","font":"Roboto","fontSize":38,"fontWeight":500,"color":"#000"},"encoding":{"x":{"datum":1071,"axis":null},"y":{"datum":73,"axis":null}}},
  {"mark":{"type":"rect","color":"#b5b5b5","cornerRadius":9},"encoding":{"x":{"datum":1117,"axis":null},"x2":{"datum":1190},"y":{"datum":52,"axis":null},"y2":{"datum":92}}},
  {"mark":{"type":"rect","color":"#000","cornerRadius":9},"encoding":{"x":{"datum":1117,"axis":null},"x2":{"datum":1171},"y":{"datum":52,"axis":null},"y2":{"datum":92}}},
  {"mark":{"type":"rect","color":"#b5b5b5"},"encoding":{"x":{"datum":1194,"axis":null},"x2":{"datum":1198},"y":{"datum":66,"axis":null},"y2":{"datum":78}}},
  {"mark":{"type":"text","text":"72","font":"Roboto","fontSize":34,"fontWeight":700,"color":"#fff"},"encoding":{"x":{"datum":1152,"axis":null},"y":{"datum":73,"axis":null}}},
  {"mark":{"type":"point","shape":"M.55,-1L-.55,0L.55,1","size":2704,"filled":false,"stroke":"#123a87","strokeWidth":4,"opacity":1},"encoding":{"x":{"datum":71,"axis":null},"y":{"datum":204,"axis":null}}},
  {"mark":{"type":"text","text":"시아코인 (SC/KRW)","font":"Noto Sans CJK KR","fontSize":53,"color":"#1a3e8c"},"encoding":{"x":{"datum":517,"axis":null},"y":{"datum":207,"axis":null}}},
  {"mark":{"type":"point","shape":"M-1,-.5H1L0,.55Z","size":900,"filled":true,"color":"#1f4aa0","opacity":1},"encoding":{"x":{"datum":766,"axis":null},"y":{"datum":207,"axis":null}}},
  {"mark":{"type":"point","shape":"M0,-1L.247,-.34L.951,-.309L.4,.13L.588,.809L0,.42L-.588,.809L-.4,.13L-.951,-.309L-.247,-.34Z","size":3844,"filled":false,"stroke":"#123a87","strokeWidth":4.5,"opacity":1},"encoding":{"x":{"datum":969,"axis":null},"y":{"datum":207,"axis":null}}},
  {"mark":{"type":"point","shape":"M-.7,.55C-.55,.35 -.6,.1 -.6,-.15C-.6,-.6 -.3,-.9 0,-.9C.3,-.9 .6,-.6 .6,-.15C.6,.1 .55,.35 .7,.55L.95,.75H-.95ZM-.25,.75C-.25,1.1 .25,1.1 .25,.75","size":3600,"filled":false,"stroke":"#123a87","strokeWidth":4.5,"opacity":1},"encoding":{"x":{"datum":1076,"axis":null},"y":{"datum":205,"axis":null}}},
  {"mark":{"type":"point","shape":"M-.2,-.75H-.95V.95H.7V.2M.1,0C.1,-.45 .45,-.5 .65,-.5V-.85L1,-.35L.65,.1V-.2C.4,-.25 .2,-.15 .1,0","size":3364,"filled":false,"stroke":"#123a87","strokeWidth":4.5,"opacity":1},"encoding":{"x":{"datum":1184,"axis":null},"y":{"datum":204,"axis":null}}},
  {"mark":{"type":"text","text":"13.77","font":"Roboto","fontSize":58,"align":"left","color":"#1c68c0"},"encoding":{"x":{"datum":111,"axis":null},"y":{"datum":310,"axis":null}}},
  {"mark":{"type":"text","text":"-15.10%","font":"Roboto","fontSize":42,"align":"left","color":"#1c68c0"},"encoding":{"x":{"datum":110,"axis":null},"y":{"datum":372,"axis":null}}},
  {"mark":{"type":"point","shape":"M-1,-.6H1L0,.6Z","size":900,"filled":true,"color":"#1a5cb8","opacity":1},"encoding":{"x":{"datum":310,"axis":null},"y":{"datum":374,"axis":null}}},
  {"mark":{"type":"text","text":"2.45","font":"Roboto","fontSize":39,"align":"left","color":"#1c68c0"},"encoding":{"x":{"datum":338,"axis":null},"y":{"datum":372,"axis":null}}},
  {"mark":{"type":"point","shape":"M.5,-1L-.5,0L.5,1","size":1296,"filled":false,"stroke":"#c4c8d0","strokeWidth":3,"opacity":1},"encoding":{"x":{"datum":55,"axis":null},"y":{"datum":342,"axis":null}}},
  {"mark":{"type":"point","shape":"M-.5,-1L.5,0L-.5,1","size":1296,"filled":false,"stroke":"#c4c8d0","strokeWidth":3,"opacity":1},"encoding":{"x":{"datum":1224,"axis":null},"y":{"datum":342,"axis":null}}},
  {"mark":{"type":"rect","filled":false,"stroke":"#e2e2e2","strokeWidth":2},"encoding":{"x":{"datum":961,"axis":null},"x2":{"datum":1169},"y":{"datum":295,"axis":null},"y2":{"datum":390}}},
  {"mark":{"type":"rule","stroke":"#d5d5d5","strokeWidth":2,"strokeDash":[3,4]},"encoding":{"x":{"datum":963,"axis":null},"x2":{"datum":1167},"y":{"datum":303,"axis":null}}},
  {"mark":{"type":"rule","stroke":"#e8e8e8","strokeWidth":3},"encoding":{"x":{"datum":0,"axis":null},"x2":{"datum":1280},"y":{"datum":414,"axis":null}}},
  {"mark":{"type":"text","text":"KRAKEN","font":"Roboto","fontSize":34,"fontWeight":700,"align":"left","color":"#333"},"encoding":{"x":{"datum":38,"axis":null},"y":{"datum":457,"axis":null}}},
  {"mark":{"type":"text","text":"KRAKEN","font":"Roboto","fontSize":34,"fontWeight":700,"align":"left","color":"#333"},"encoding":{"x":{"datum":660,"axis":null},"y":{"datum":457,"axis":null}}},
  {"mark":{"type":"text","text":"13.70 ($ 0.01)","font":"Roboto","fontSize":35.5,"align":"right","color":"#444"},"encoding":{"x":{"datum":619,"axis":null},"y":{"datum":455,"axis":null}}},
  {"mark":{"type":"text","text":"13.73 (€ 0.01)","font":"Roboto","fontSize":35.5,"align":"right","color":"#444"},"encoding":{"x":{"datum":1241,"axis":null},"y":{"datum":455,"axis":null}}},
  {"mark":{"type":"rect","color":"#0e3987"},"encoding":{"x":{"datum":0,"axis":null},"x2":{"datum":1280},"y":{"datum":496,"axis":null},"y2":{"datum":595}}},
  {"mark":{"type":"text","text":"주문","font":"Noto Sans CJK KR","fontSize":39,"color":"#8fa6d0"},"encoding":{"x":{"datum":126,"axis":null},"y":{"datum":548,"axis":null}}},
  {"mark":{"type":"text","text":"호가","font":"Noto Sans CJK KR","fontSize":39,"color":"#8fa6d0"},"encoding":{"x":{"datum":383,"axis":null},"y":{"datum":548,"axis":null}}},
  {"mark":{"type":"text","text":"차트","font":"Noto Sans CJK KR","fontSize":39,"fontWeight":700,"color":"#fff"},"encoding":{"x":{"datum":639,"axis":null},"y":{"datum":548,"axis":null}}},
  {"mark":{"type":"text","text":"시세","font":"Noto Sans CJK KR","fontSize":39,"color":"#8fa6d0"},"encoding":{"x":{"datum":894,"axis":null},"y":{"datum":548,"axis":null}}},
  {"mark":{"type":"text","text":"정보","font":"Noto Sans CJK KR","fontSize":39,"color":"#8fa6d0"},"encoding":{"x":{"datum":1150,"axis":null},"y":{"datum":548,"axis":null}}},
  {"mark":{"type":"point","shape":"M1,-1V1H-1Z","size":225,"filled":true,"color":"#8fa6d0","opacity":1},"encoding":{"x":{"datum":175,"axis":null},"y":{"datum":572,"axis":null}}},
  {"mark":{"type":"point","shape":"M1,-1V1H-1Z","size":225,"filled":true,"color":"#8fa6d0","opacity":1},"encoding":{"x":{"datum":431,"axis":null},"y":{"datum":572,"axis":null}}},
  {"mark":{"type":"rect","filled":false,"stroke":"#dedede","strokeWidth":3},"encoding":{"x":{"datum":16,"axis":null},"x2":{"datum":282},"y":{"datum":611,"axis":null},"y2":{"datum":705}}},
  {"mark":{"type":"text","text":"주문","font":"Noto Sans CJK KR","fontSize":23,"align":"left","color":"#777"},"encoding":{"x":{"datum":28,"axis":null},"y":{"datum":635,"axis":null}}},
  {"mark":{"type":"text","text":"13.77","font":"Roboto","fontSize":35,"align":"left","color":"#1c68c0"},"encoding":{"x":{"datum":28,"axis":null},"y":{"datum":677,"axis":null}}},
  {"mark":{"type":"point","shape":"M-1,-.5L0,.5L1,-.5","size":900,"filled":false,"stroke":"#555","strokeWidth":2.5,"opacity":1},"encoding":{"x":{"datum":255,"axis":null},"y":{"datum":658,"axis":null}}},
  {"mark":{"type":"rect","filled":false,"stroke":"#dedede","strokeWidth":3},"encoding":{"x":{"datum":541,"axis":null},"x2":{"datum":1062},"y":{"datum":611,"axis":null},"y2":{"datum":705}}},
  {"mark":{"type":"rule","stroke":"#e4e4e4","strokeWidth":2},"encoding":{"x":{"datum":627,"axis":null},"y":{"datum":611,"axis":null},"y2":{"datum":705}}},
  {"mark":{"type":"rule","stroke":"#e4e4e4","strokeWidth":2},"encoding":{"x":{"datum":714,"axis":null},"y":{"datum":611,"axis":null},"y2":{"datum":705}}},
  {"mark":{"type":"rule","stroke":"#e4e4e4","strokeWidth":2},"encoding":{"x":{"datum":975,"axis":null},"y":{"datum":611,"axis":null},"y2":{"datum":705}}},
  {"mark":{"type":"rect","fill":"#fff","stroke":"#123a87","strokeWidth":3},"encoding":{"x":{"datum":801,"axis":null},"x2":{"datum":887},"y":{"datum":611,"axis":null},"y2":{"datum":705}}},
  {"mark":{"type":"text","text":"틱","font":"Noto Sans CJK KR","fontSize":38,"color":"#444"},"encoding":{"x":{"datum":583,"axis":null},"y":{"datum":660,"axis":null}}},
  {"mark":{"type":"text","text":"초","font":"Noto Sans CJK KR","fontSize":38,"color":"#444"},"encoding":{"x":{"datum":669,"axis":null},"y":{"datum":660,"axis":null}}},
  {"mark":{"type":"text","text":"분","font":"Noto Sans CJK KR","fontSize":38,"color":"#444"},"encoding":{"x":{"datum":757,"axis":null},"y":{"datum":660,"axis":null}}},
  {"mark":{"type":"text","text":"일","font":"Noto Sans CJK KR","fontSize":38,"color":"#1c5ca8"},"encoding":{"x":{"datum":844,"axis":null},"y":{"datum":660,"axis":null}}},
  {"mark":{"type":"text","text":"주","font":"Noto Sans CJK KR","fontSize":38,"color":"#444"},"encoding":{"x":{"datum":930,"axis":null},"y":{"datum":660,"axis":null}}},
  {"mark":{"type":"text","text":"월","font":"Noto Sans CJK KR","fontSize":38,"color":"#444"},"encoding":{"x":{"datum":1017,"axis":null},"y":{"datum":660,"axis":null}}},
  {"mark":{"type":"rect","color":"#f0f0f0"},"encoding":{"x":{"datum":1075,"axis":null},"x2":{"datum":1164},"y":{"datum":611,"axis":null},"y2":{"datum":705}}},
  {"mark":{"type":"rect","color":"#f0f0f0"},"encoding":{"x":{"datum":1176,"axis":null},"x2":{"datum":1266},"y":{"datum":611,"axis":null},"y2":{"datum":705}}},
  {"mark":{"type":"rect","filled":false,"stroke":"#333","strokeWidth":3},"encoding":{"x":{"datum":1097,"axis":null},"x2":{"datum":1142},"y":{"datum":635,"axis":null},"y2":{"datum":680}}},
  {"mark":{"type":"point","shape":"M.746,-.228L.985,-.174L.985,.174L.746,.228L.689,.366L.819,.574L.574,.819L.366,.689L.228,.746L.174,.985L-.174,.985L-.228,.746L-.366,.689L-.574,.819L-.819,.574L-.689,.366L-.746,.228L-.985,.174L-.985,-.174L-.746,-.228L-.689,-.366L-.819,-.574L-.574,-.819L-.366,-.689L-.228,-.746L-.174,-.985L.174,-.985L.228,-.746L.366,-.689L.574,-.819L.819,-.574L.689,-.366ZM.3,0A.3,.3 0 1 1 -.3,0A.3,.3 0 1 1 .3,0Z","size":2704,"filled":false,"stroke":"#444","strokeWidth":2.5,"opacity":1},"encoding":{"x":{"datum":1221,"axis":null},"y":{"datum":657,"axis":null}}}
 ]},
 {"data":{"values":[{"t":0,"v":188},{"t":7,"v":140},{"t":12,"v":170},{"t":20,"v":145},{"t":27,"v":115},{"t":33,"v":135},{"t":45,"v":90},{"t":60,"v":50},{"t":70,"v":45},{"t":92,"v":20},{"t":102,"v":60},{"t":117,"v":87},{"t":130,"v":75},{"t":142,"v":70},{"t":155,"v":85}]},
  "encoding":{"x":{"field":"t","type":"quantitative","axis":null,"scale":{"domain":[0,155],"range":[963,1090],"nice":false,"zero":false}}},
  "layer":[
  {"mark":{"type":"area","color":{"x1":0,"y1":0,"x2":0,"y2":1,"gradient":"linear","stops":[{"offset":0,"color":"#ffffff"},{"offset":1,"color":"#c9e3f6"}]}},"encoding":{"y":{"field":"v","type":"quantitative","axis":null,"scale":{"domain":[0,207],"range":[390,295],"nice":false,"zero":false}},"y2":{"datum":188}}},
  {"mark":{"type":"line","color":"#3b7fb8","strokeWidth":2},"encoding":{"y":{"field":"v","type":"quantitative","axis":null,"scale":{"domain":[0,207],"range":[390,295],"nice":false,"zero":false}}}}
 ]}
]},
{"width":1280,"height":927,"resolve":{"scale":{"x":"independent","y":"independent"}},"layer":[
 {"data":{"values":[{"hi":32.24,"lo":28.33,"mid":30.29,"pct":2.34,"label":"2.34%","kind":"vol"},{"hi":28.2,"lo":24.3,"mid":26.21,"pct":0,"label":"0.00%","kind":"vol"},{"hi":24.12,"lo":20.31,"mid":22.22,"pct":5.92,"label":"5.92%","kind":"vol"},{"hi":20.10,"lo":16.29,"mid":18.2,"pct":18.71,"label":"18.71%","kind":"vol"},{"hi":16.11,"lo":12.27,"mid":14.18,"pct":20.47,"label":"20.47%","kind":"poc"},{"hi":12.09,"lo":8.31,"mid":10.15,"pct":18.69,"label":"18.69%","kind":"vol"},{"hi":8.13,"lo":4.26,"mid":6.22,"pct":33.88,"label":"33.88%","kind":"now"}]},
  "encoding":{"x":{"field":"pct","type":"quantitative","axis":null,"scale":{"domain":[0,38.82],"nice":false,"zero":false}}},
  "layer":[
  {"mark":{"type":"rect"},"encoding":{"x2":{"datum":0},"y":{"field":"hi","type":"quantitative","axis":null,"scale":{"domain":[4.186,32.24],"nice":false,"zero":false}},"y2":{"field":"lo"},"color":{"condition":[{"test":"datum.kind=='poc'","value":"#fddcd3"},{"test":"datum.kind=='now'","value":"#d8f3e4"}],"value":"#d9def2"}}},
  {"transform":[{"filter":"datum.pct>=5"}],"mark":{"type":"text","font":"DejaVu Sans","fontSize":33.5,"align":"right","dx":-3},"encoding":{"y":{"field":"mid","type":"quantitative","axis":null,"scale":{"domain":[4.186,32.24],"nice":false,"zero":false}},"text":{"field":"label"},"color":{"condition":[{"test":"datum.kind=='poc'","value":"#e5491f"},{"test":"datum.kind=='now'","value":"#17ad63"}],"value":"#15308f"}}},
  {"transform":[{"filter":"datum.pct<5"}],"mark":{"type":"text","font":"DejaVu Sans","fontSize":33.5,"align":"left","color":"#15308f"},"encoding":{"y":{"field":"mid","type":"quantitative","axis":null,"scale":{"domain":[4.186,32.24],"nice":false,"zero":false}},"text":{"field":"label"}}}
 ]},
 {"data":{"values":[{"level":25,"d":"2023-11-02T23:00:00Z","e":"2024-02-25T13:40:00Z"},{"level":18,"d":"2023-11-02T23:00:00Z","e":"2024-02-25T13:40:00Z"},{"level":11,"d":"2023-11-02T23:00:00Z","e":"2024-02-25T13:40:00Z"}],"format":{"parse":{"d":"date","e":"date","level":"number"}}},"mark":{"type":"rule","stroke":"#000","strokeOpacity":0.06,"strokeWidth":3},"encoding":{"x":{"field":"d","type":"temporal","axis":null,"scale":{"type":"utc","domain":[{"year":2023,"month":11,"date":2,"hours":15,"minutes":50,"utc":true},{"year":2024,"month":3,"date":13,"hours":8,"minutes":24,"utc":true}]}},"x2":{"field":"e"},"y":{"field":"level","type":"quantitative","scale":{"domain":[4.186,32.24],"nice":false,"zero":false},"axis":{"orient":"right","offset":-152,"values":[25,18,13.77,11],"title":null,"grid":false,"ticks":false,"domain":false,"zindex":1,"labelPadding":0,"labelFont":"DejaVu Sans","labelFontSize":26,"labelOverlap":false,"labelBound":false,"labelFlush":false,"labelExpr":"format(datum.value,'.2f')","labelColor":{"condition":{"test":"datum.value==13.77","value":"#ffffff"},"value":"#333333"}}}}},
 {"data":{"name":"k"},
  "encoding":{"x":{"field":"d","type":"temporal","axis":null,"scale":{"type":"utc","domain":[{"year":2023,"month":11,"date":2,"hours":15,"minutes":50,"utc":true},{"year":2024,"month":3,"date":13,"hours":8,"minutes":24,"utc":true}]}}},
  "layer":[
  {"data":{"values":[{"d":"2023-12-01"},{"d":"2024-02-01"}]},"mark":{"type":"rule","stroke":"#000","strokeOpacity":0.06,"strokeWidth":3,"xOffset":1.5}},
  {"data":{"values":[{"d":"2024-01-01"}]},"mark":{"type":"rule","stroke":"#e6e6e6","strokeWidth":3,"strokeDash":[23,25],"xOffset":1.5}},
  {"mark":{"type":"rule","strokeWidth":2},"encoding":{"y":{"field":"l","type":"quantitative","axis":null,"scale":{"domain":[4.186,32.24],"nice":false,"zero":false}},"y2":{"field":"h"},"color":{"condition":{"test":"datum.c>=datum.o","value":"#c4533a"},"value":"#1a66c4"}}},
  {"mark":{"type":"bar","size":7},"encoding":{"y":{"field":"o","type":"quantitative","axis":null,"scale":{"domain":[4.186,32.24],"nice":false,"zero":false}},"y2":{"field":"c"},"color":{"condition":{"test":"datum.c>=datum.o","value":"#c4533a"},"value":"#1a66c4"}}},
  {"data":{"name":"ma50"},"mark":{"type":"line","color":"#f5874f","strokeWidth":7,"strokeCap":"round","strokeJoin":"round","interpolate":"monotone"},"encoding":{"y":{"field":"v","type":"quantitative","axis":null,"scale":{"domain":[4.186,32.24],"nice":false,"zero":false}}}},
  {"data":{"name":"ma20"},"mark":{"type":"line","color":"#e21fdc","strokeWidth":4,"strokeCap":"round","strokeJoin":"round"},"encoding":{"y":{"field":"v","type":"quantitative","axis":null,"scale":{"domain":[4.186,32.24],"nice":false,"zero":false}}}},
  {"data":{"name":"ma10"},"mark":{"type":"line","color":"#c81414","strokeWidth":3,"strokeCap":"round","strokeJoin":"round"},"encoding":{"y":{"field":"v","type":"quantitative","axis":null,"scale":{"domain":[4.186,32.24],"nice":false,"zero":false}}}}
 ]},
 {"data":{"values":[{"a":1}]},"layer":[
  {"mark":{"type":"rect","color":"#3b79d5"},"encoding":{"x":{"datum":1124,"axis":null,"scale":{"domain":[0,1280],"nice":false,"zero":false}},"x2":{"datum":1277},"y":{"datum":591,"axis":null,"scale":{"domain":[927,0],"nice":false,"zero":false}},"y2":{"datum":631}}},
  {"mark":{"type":"rule","stroke":"#c4c4c4","strokeWidth":2},"encoding":{"x":{"datum":0,"axis":null},"x2":{"datum":1280},"y":{"datum":1,"axis":null}}},
  {"mark":{"type":"rule","stroke":"#bdbdbd","strokeWidth":3},"encoding":{"x":{"datum":1.5,"axis":null},"y":{"datum":0,"axis":null},"y2":{"datum":927}}},
  {"mark":{"type":"rule","stroke":"#bdbdbd","strokeWidth":3},"encoding":{"x":{"datum":1279,"axis":null},"y":{"datum":0,"axis":null},"y2":{"datum":927}}},
  {"mark":{"type":"rule","stroke":"#e2e2e2","strokeWidth":3},"encoding":{"x":{"datum":1117,"axis":null},"y":{"datum":0,"axis":null},"y2":{"datum":927}}},
  {"mark":{"type":"text","text":"32.24","font":"DejaVu Sans","fontSize":26,"align":"left","color":"#333"},"encoding":{"x":{"datum":1126,"axis":null},"y":{"datum":22,"axis":null}}},
  {"mark":{"type":"text","text":"4.186","font":"DejaVu Sans","fontSize":26,"align":"left","color":"#333"},"encoding":{"x":{"datum":1126,"axis":null},"y":{"datum":910,"axis":null}}},
  {"mark":{"type":"text","text":"매물대 수 7","font":"Noto Sans CJK KR","fontSize":26,"align":"left","color":"#444"},"encoding":{"x":{"datum":7,"axis":null},"y":{"datum":18,"axis":null}}},
  {"mark":{"type":"text","text":"단순 MA  10","font":"Noto Sans CJK KR","fontSize":26,"align":"left","color":"#444"},"encoding":{"x":{"datum":7,"axis":null},"y":{"datum":64,"axis":null}}},
  {"mark":{"type":"rect","color":"#f00000"},"encoding":{"x":{"datum":115,"axis":null},"x2":{"datum":130},"y":{"datum":52,"axis":null},"y2":{"datum":78}}},
  {"mark":{"type":"rect","color":"#ff00ff"},"encoding":{"x":{"datum":180,"axis":null},"x2":{"datum":193},"y":{"datum":52,"axis":null},"y2":{"datum":78}}},
  {"mark":{"type":"text","text":"20","font":"DejaVu Sans","fontSize":25,"align":"left","color":"#444"},"encoding":{"x":{"datum":202,"axis":null},"y":{"datum":64,"axis":null}}},
  {"mark":{"type":"rect","color":"#f5874f"},"encoding":{"x":{"datum":246,"axis":null},"x2":{"datum":260},"y":{"datum":52,"axis":null},"y2":{"datum":78}}},
  {"mark":{"type":"text","text":"50","font":"DejaVu Sans","fontSize":25,"align":"left","color":"#444"},"encoding":{"x":{"datum":268,"axis":null},"y":{"datum":64,"axis":null}}}
 ]}
]},
{"width":1280,"height":42,"resolve":{"scale":{"x":"independent","y":"independent"}},"layer":[
 {"data":{"values":[{"a":1}]},"mark":{"type":"rect","color":"#eceef4"},"encoding":{"x":{"datum":{"year":2023,"month":11,"date":2,"hours":15,"minutes":50,"utc":true},"type":"temporal","scale":{"type":"utc","domain":[{"year":2023,"month":11,"date":2,"hours":15,"minutes":50,"utc":true},{"year":2024,"month":3,"date":13,"hours":8,"minutes":24,"utc":true}]},"axis":{"orient":"bottom","offset":-20,"title":null,"grid":false,"ticks":false,"domain":false,"zindex":1,"values":[{"year":2023,"month":12,"date":1,"utc":true},{"year":2024,"month":1,"date":1,"utc":true},{"year":2024,"month":2,"date":1,"utc":true}],"labelPadding":0,"labelBaseline":"middle","labelFont":"DejaVu Sans","labelFontSize":27,"labelColor":"#333333","labelOverlap":false,"labelBound":false,"labelFlush":false,"labelExpr":"utcFormat(datum.value,'%Y-%m-%d')"}},"x2":{"datum":{"year":2024,"month":3,"date":13,"hours":8,"minutes":24,"utc":true}}}},
 {"data":{"values":[{"a":1}]},"layer":[
  {"mark":{"type":"text","text":"1-01","font":"DejaVu Sans","fontSize":27,"align":"left","color":"#333"},"encoding":{"x":{"datum":0,"axis":null,"scale":{"domain":[0,1280],"nice":false,"zero":false}},"y":{"datum":22,"axis":null,"scale":{"domain":[42,0],"nice":false,"zero":false}}}},
  {"mark":{"type":"point","shape":"M-1,-.1L0,-.8L1,-.1ZM-1,.1L0,.8L1,.1Z","size":576,"filled":true,"color":"#6b7280","opacity":1},"encoding":{"x":{"datum":1199,"axis":null},"y":{"datum":21,"axis":null}}}
 ]}
]},
{"width":1280,"height":489,"resolve":{"scale":{"x":"independent","y":"independent"}},"layer":[
 {"data":{"values":[{"level":38235.815,"d":"2023-11-02T23:00:00Z","e":"2024-02-25T13:40:00Z"},{"level":25490.543,"d":"2023-11-02T23:00:00Z","e":"2024-02-25T13:40:00Z"},{"level":12745.272,"d":"2023-11-02T23:00:00Z","e":"2024-02-25T13:40:00Z"}],"format":{"parse":{"d":"date","e":"date","level":"number"}}},"mark":{"type":"rule","stroke":"#000","strokeOpacity":0.06,"strokeWidth":3},"encoding":{"x":{"field":"d","type":"temporal","axis":null,"scale":{"type":"utc","domain":[{"year":2023,"month":11,"date":2,"hours":15,"minutes":50,"utc":true},{"year":2024,"month":3,"date":13,"hours":8,"minutes":24,"utc":true}]}},"x2":{"field":"e"},"y":{"field":"level","type":"quantitative","scale":{"domain":[0,50900],"nice":false,"zero":false},"axis":{"orient":"right","offset":-152,"values":[48774.488,38235.815,25490.543,12745.272],"title":null,"grid":false,"ticks":false,"domain":false,"zindex":1,"labelPadding":0,"labelFont":"DejaVu Sans","labelFontSize":26,"labelOverlap":false,"labelBound":false,"labelFlush":false,"labelExpr":"format(datum.value,',.3f')","labelColor":{"condition":{"test":"datum.value==48774.488","value":"#ffffff"},"value":"#333333"}}}}},
 {"data":{"name":"k"},
  "encoding":{"x":{"field":"d","type":"temporal","axis":null,"scale":{"type":"utc","domain":[{"year":2023,"month":11,"date":2,"hours":15,"minutes":50,"utc":true},{"year":2024,"month":3,"date":13,"hours":8,"minutes":24,"utc":true}]}}},
  "layer":[
  {"data":{"values":[{"d":"2023-12-01"},{"d":"2024-02-01"}]},"mark":{"type":"rule","stroke":"#000","strokeOpacity":0.06,"strokeWidth":3,"xOffset":1.5}},
  {"data":{"values":[{"d":"2024-01-01"}]},"mark":{"type":"rule","stroke":"#e6e6e6","strokeWidth":3,"strokeDash":[23,25],"xOffset":1.5}},
  {"mark":{"type":"bar","size":7},"encoding":{"y":{"field":"v","type":"quantitative","axis":null,"scale":{"domain":[0,50900],"nice":false,"zero":false}},"y2":{"datum":0},"color":{"condition":{"test":"datum.c>=datum.o","value":"#c4533a"},"value":"#1a66c4"}}},
  {"data":{"name":"vm20"},"mark":{"type":"line","color":"#e49a1c","strokeWidth":3,"strokeCap":"round","strokeJoin":"round"},"encoding":{"y":{"field":"v","type":"quantitative","axis":null,"scale":{"domain":[0,50900],"nice":false,"zero":false}}}},
  {"data":{"name":"vm5"},"mark":{"type":"line","color":"#d626b4","strokeWidth":3,"strokeCap":"round","strokeJoin":"round"},"encoding":{"y":{"field":"v","type":"quantitative","axis":null,"scale":{"domain":[0,50900],"nice":false,"zero":false}}}},
  {"data":{"name":"vm10"},"mark":{"type":"line","color":"#1a2f9e","strokeWidth":3,"strokeCap":"round","strokeJoin":"round"},"encoding":{"y":{"field":"v","type":"quantitative","axis":null,"scale":{"domain":[0,50900],"nice":false,"zero":false}}}}
 ]},
 {"data":{"values":[{"a":1}]},"layer":[
  {"mark":{"type":"rect","color":"#3b79d5"},"encoding":{"x":{"datum":1124,"axis":null,"scale":{"domain":[0,1280],"nice":false,"zero":false}},"x2":{"datum":1277},"y":{"datum":1,"axis":null,"scale":{"domain":[489,0],"nice":false,"zero":false}},"y2":{"datum":41}}},
  {"mark":{"type":"rule","stroke":"#bdbdbd","strokeWidth":3},"encoding":{"x":{"datum":1.5,"axis":null},"y":{"datum":0,"axis":null},"y2":{"datum":489}}},
  {"mark":{"type":"rule","stroke":"#bdbdbd","strokeWidth":3},"encoding":{"x":{"datum":1279,"axis":null},"y":{"datum":0,"axis":null},"y2":{"datum":489}}},
  {"mark":{"type":"rule","stroke":"#e2e2e2","strokeWidth":3},"encoding":{"x":{"datum":1117,"axis":null},"y":{"datum":0,"axis":null},"y2":{"datum":489}}},
  {"mark":{"type":"text","text":"x1,000,000","font":"DejaVu Sans","fontSize":26,"align":"left","color":"#333"},"encoding":{"x":{"datum":1126,"axis":null},"y":{"datum":469,"axis":null}}},
  {"mark":{"type":"text","text":"거래량 단순 MA","font":"Noto Sans CJK KR","fontSize":26,"align":"left","color":"#444"},"encoding":{"x":{"datum":7,"axis":null},"y":{"datum":19,"axis":null}}},
  {"mark":{"type":"rect","color":"#d626b4"},"encoding":{"x":{"datum":194,"axis":null},"x2":{"datum":209},"y":{"datum":6,"axis":null},"y2":{"datum":33}}},
  {"mark":{"type":"text","text":"5","font":"DejaVu Sans","fontSize":25,"align":"left","color":"#444"},"encoding":{"x":{"datum":218,"axis":null},"y":{"datum":19,"axis":null}}},
  {"mark":{"type":"rect","color":"#1a2f9e"},"encoding":{"x":{"datum":244,"axis":null},"x2":{"datum":259},"y":{"datum":6,"axis":null},"y2":{"datum":33}}},
  {"mark":{"type":"text","text":"10","font":"DejaVu Sans","fontSize":25,"align":"left","color":"#444"},"encoding":{"x":{"datum":265,"axis":null},"y":{"datum":19,"axis":null}}},
  {"mark":{"type":"rect","color":"#e49a1c"},"encoding":{"x":{"datum":307,"axis":null},"x2":{"datum":322},"y":{"datum":6,"axis":null},"y2":{"datum":33}}},
  {"mark":{"type":"text","text":"20","font":"DejaVu Sans","fontSize":25,"align":"left","color":"#444"},"encoding":{"x":{"datum":329,"axis":null},"y":{"datum":19,"axis":null}}}
 ]}
]},
{"width":1280,"height":489,"resolve":{"scale":{"x":"independent","y":"independent"}},"layer":[
 {"data":{"values":[{"level":50,"d":"2023-11-02T23:00:00Z","e":"2024-02-25T13:40:00Z"}],"format":{"parse":{"d":"date","e":"date","level":"number"}}},"mark":{"type":"rule","stroke":"#000","strokeOpacity":0.06,"strokeWidth":3},"encoding":{"x":{"field":"d","type":"temporal","axis":null,"scale":{"type":"utc","domain":[{"year":2023,"month":11,"date":2,"hours":15,"minutes":50,"utc":true},{"year":2024,"month":3,"date":13,"hours":8,"minutes":24,"utc":true}]}},"x2":{"field":"e"},"y":{"field":"level","type":"quantitative","scale":{"domain":[0,100],"nice":false,"zero":false},"axis":{"orient":"right","offset":-152,"values":[75,63.56,50,37.89,25],"title":null,"grid":false,"ticks":false,"domain":false,"zindex":1,"labelPadding":0,"labelFont":"DejaVu Sans","labelFontSize":26,"labelOverlap":false,"labelBound":false,"labelFlush":false,"labelExpr":"format(datum.value,'.2f')","labelColor":{"condition":{"test":"datum.value==63.56||datum.value==37.89","value":"#ffffff"},"value":"#333333"}}}}},
 {"data":{"name":"st"},
  "encoding":{"x":{"field":"d","type":"temporal","axis":null,"scale":{"type":"utc","domain":[{"year":2023,"month":11,"date":2,"hours":15,"minutes":50,"utc":true},{"year":2024,"month":3,"date":13,"hours":8,"minutes":24,"utc":true}]}}},
  "layer":[
  {"data":{"values":[{"d":"2023-12-01"},{"d":"2024-02-01"}]},"mark":{"type":"rule","stroke":"#000","strokeOpacity":0.06,"strokeWidth":3,"xOffset":1.5}},
  {"data":{"values":[{"d":"2024-01-01"}]},"mark":{"type":"rule","stroke":"#e6e6e6","strokeWidth":3,"strokeDash":[23,25],"xOffset":1.5}},
  {"data":{"values":[{"level":75,"d":"2023-11-02T23:00:00Z","e":"2024-02-25T13:40:00Z"},{"level":25,"d":"2023-11-02T23:00:00Z","e":"2024-02-25T13:40:00Z"}],"format":{"parse":{"d":"date","e":"date","level":"number"}}},"mark":{"type":"rule","stroke":"#000","strokeWidth":4},"encoding":{"x2":{"field":"e"},"y":{"field":"level","type":"quantitative","axis":null,"scale":{"domain":[0,100],"nice":false,"zero":false}}}},
  {"mark":{"type":"line","color":"#dd1111","strokeWidth":3.2,"strokeJoin":"round"},"encoding":{"y":{"field":"pk","type":"quantitative","axis":null,"scale":{"domain":[0,100],"nice":false,"zero":false}}}},
  {"mark":{"type":"line","color":"#1212d0","strokeWidth":3.2,"strokeJoin":"round"},"encoding":{"y":{"field":"pd","type":"quantitative","axis":null,"scale":{"domain":[0,100],"nice":false,"zero":false}}}}
 ]},
 {"data":{"values":[{"a":1}]},"layer":[
  {"mark":{"type":"rect","color":"#2b2bf0"},"encoding":{"x":{"datum":1124,"axis":null,"scale":{"domain":[0,1280],"nice":false,"zero":false}},"x2":{"datum":1277},"y":{"datum":158,"axis":null,"scale":{"domain":[489,0],"nice":false,"zero":false}},"y2":{"datum":198}}},
  {"mark":{"type":"rect","color":"#f52a2a"},"encoding":{"x":{"datum":1124,"axis":null},"x2":{"datum":1277},"y":{"datum":283,"axis":null},"y2":{"datum":324}}},
  {"mark":{"type":"rule","stroke":"#bdbdbd","strokeWidth":3},"encoding":{"x":{"datum":1.5,"axis":null},"y":{"datum":0,"axis":null},"y2":{"datum":489}}},
  {"mark":{"type":"rule","stroke":"#bdbdbd","strokeWidth":3},"encoding":{"x":{"datum":1279,"axis":null},"y":{"datum":0,"axis":null},"y2":{"datum":489}}},
  {"mark":{"type":"rule","stroke":"#e2e2e2","strokeWidth":3},"encoding":{"x":{"datum":1117,"axis":null},"y":{"datum":0,"axis":null},"y2":{"datum":489}}},
  {"mark":{"type":"text","text":"Stochastic Slow %K 3","font":"Noto Sans","fontSize":26,"align":"left","color":"#444"},"encoding":{"x":{"datum":7,"axis":null},"y":{"datum":20,"axis":null}}},
  {"mark":{"type":"rect","color":"#f00000"},"encoding":{"x":{"datum":305,"axis":null},"x2":{"datum":320},"y":{"datum":6,"axis":null},"y2":{"datum":32}}},
  {"mark":{"type":"text","text":"%D 3","font":"Noto Sans","fontSize":26,"align":"left","color":"#444"},"encoding":{"x":{"datum":329,"axis":null},"y":{"datum":20,"axis":null}}},
  {"mark":{"type":"rect","color":"#0000f0"},"encoding":{"x":{"datum":409,"axis":null},"x2":{"datum":424},"y":{"datum":6,"axis":null},"y2":{"datum":32}}}
 ]}
]},
{"width":1280,"height":102,"data":{"values":[{"a":1}]},"layer":[
  {"mark":{"type":"rule","stroke":"#bdbdbd","strokeWidth":3},"encoding":{"x":{"datum":0,"axis":null,"scale":{"domain":[0,1280],"nice":false,"zero":false}},"x2":{"datum":1280},"y":{"datum":2,"axis":null,"scale":{"domain":[102,0],"nice":false,"zero":false}}}},
  {"mark":{"type":"rule","stroke":"#000","strokeWidth":14,"strokeCap":"round"},"encoding":{"x":{"datum":419,"axis":null},"x2":{"datum":862},"y":{"datum":70,"axis":null}}}
]}
]}
